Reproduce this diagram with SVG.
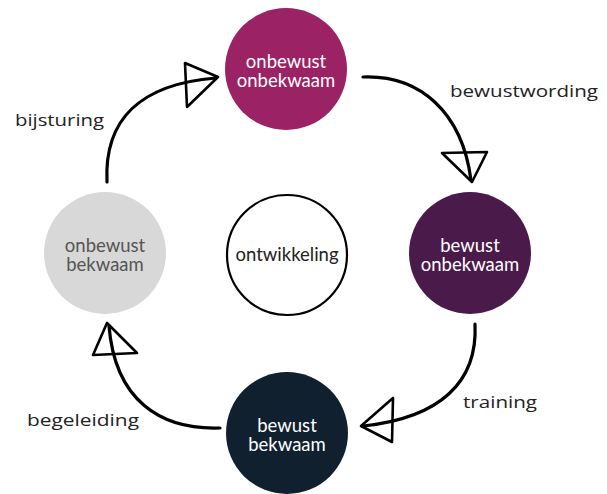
<svg xmlns="http://www.w3.org/2000/svg" width="607" height="494" viewBox="0 0 607 494">
<style>
.ct{font-family:Lato,"Open Sans",sans-serif;font-size:18.5px;text-anchor:middle}
.lbl{font-family:"Open Sans","Noto Sans",sans-serif;font-size:17px;fill:#222}
.arr{fill:none;stroke:#000;stroke-width:3.2;stroke-linecap:round}
.head{fill:none;stroke:#000;stroke-width:2.6;stroke-linejoin:round}
</style>
<rect width="607" height="494" fill="#fff"/>
<g id="connectors">
<path class="arr" d="M363,77 C420,75 462,112 471,180"/>
<polygon class="head" points="442,153 487,152 472,182"/>
<path class="arr" d="M475,324 C478,382 440,418 363,426"/>
<polygon class="head" points="393,398 392,442 361,426"/>
<path class="arr" d="M220,428 C160,430 115,400 109,326"/>
<polygon class="head" points="93,355 137,353 107,323"/>
<path class="arr" d="M107,182 C104,120 140,84 216,78"/>
<polygon class="head" points="185,63 187,107 218,77"/>
</g>
<g id="node-onbewust-onbekwaam">
<circle cx="286" cy="69" r="61" fill="#9B2264"/>
<text class="ct" fill="#fff"><tspan x="286" y="68">onbewust</tspan><tspan x="286" y="87">onbekwaam</tspan></text>
</g>
<g id="node-bewust-onbekwaam">
<circle cx="470" cy="253" r="61" fill="#4A1A4B"/>
<text class="ct" fill="#fff"><tspan x="470" y="252">bewust</tspan><tspan x="470" y="271">onbekwaam</tspan></text>
</g>
<g id="node-bewust-bekwaam">
<circle cx="287" cy="433" r="61" fill="#10202F"/>
<text class="ct" fill="#fff"><tspan x="287" y="432">bewust</tspan><tspan x="287" y="451">bekwaam</tspan></text>
</g>
<g id="node-onbewust-bekwaam">
<circle cx="105" cy="253" r="61" fill="#D8D8D8"/>
<text class="ct" fill="#555"><tspan x="105" y="252">onbewust</tspan><tspan x="105" y="271">bekwaam</tspan></text>
</g>
<g id="node-ontwikkeling">
<circle cx="287" cy="255" r="60" fill="#fff" stroke="#000" stroke-width="2.2"/>
<text class="ct" fill="#222" x="287" y="261">ontwikkeling</text>
</g>
<g id="labels">
<text class="lbl" x="450" y="97" textLength="148" lengthAdjust="spacingAndGlyphs">bewustwording</text>
<text class="lbl" x="463" y="408" textLength="74" lengthAdjust="spacingAndGlyphs">training</text>
<text class="lbl" x="15" y="126" textLength="89" lengthAdjust="spacingAndGlyphs">bijsturing</text>
<text class="lbl" x="27" y="426" textLength="112" lengthAdjust="spacingAndGlyphs">begeleiding</text>
</g>
</svg>
